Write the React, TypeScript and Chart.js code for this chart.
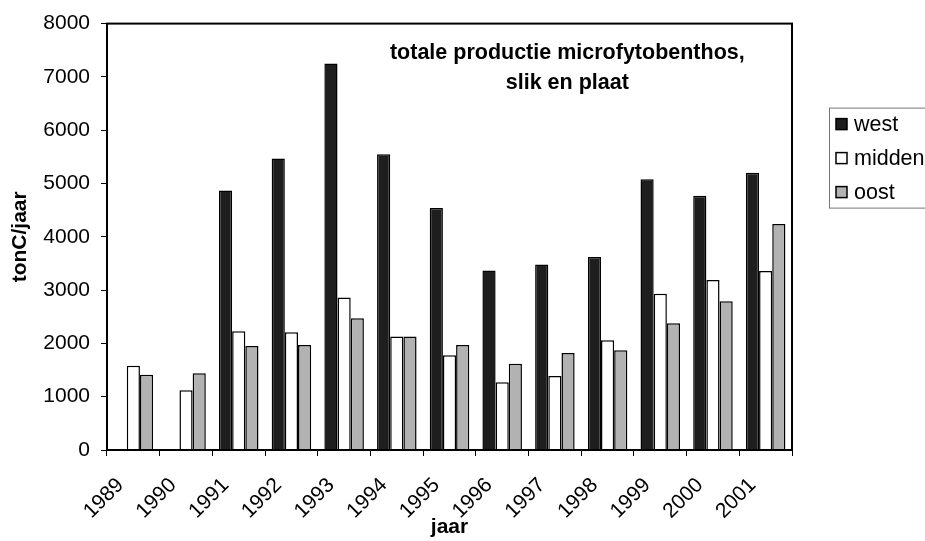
import React, { useEffect, useRef } from "react";
import { Chart, registerables } from "chart.js";

Chart.register(...registerables);

const years = ["1989", "1990", "1991", "1992", "1993", "1994", "1995", "1996", "1997", "1998", "1999", "2000", "2001"];
const west = [null, null, 4870, 5470, 7250, 5550, 4540, 3370, 3480, 3620, 5080, 4770, 5200];
const midden = [1580, 1120, 2230, 2210, 2860, 2130, 1780, 1270, 1390, 2060, 2930, 3190, 3360];
const oost = [1410, 1440, 1950, 1970, 2470, 2130, 1970, 1620, 1820, 1870, 2380, 2790, 4240];
const seriesNames = ["west", "midden", "oost"];
const seriesColors = ["#1e1e1e", "#ffffff", "#b2b2b2"];
const chartTitle = ["totale productie microfytobenthos,", "slik en plaat"];
const yAxisTitle = "tonC/jaar";
const xAxisTitle = "jaar";
const yMin = 0;
const yMax = 8000;
const yStep = 1000;

const FONT = "'Liberation Sans', Arial, sans-serif";

const framePlugin = {
  id: "frameAndText",
  afterDraw(chart: any) {
    const { ctx, chartArea } = chart;
    const { left, top, right, bottom } = chartArea;
    ctx.save();
    // plot frame
    ctx.strokeStyle = "#000";
    ctx.lineWidth = 2;
    ctx.strokeRect(left, top, right - left, bottom - top);
    // title inside plot
    ctx.fillStyle = "#000";
    ctx.font = `bold 21.5px ${FONT}`;
    ctx.textAlign = "center";
    ctx.textBaseline = "middle";
    const cx = left + (right - left) * 0.672;
    ctx.fillText(chartTitle[0], cx, top + 29);
    ctx.fillText(chartTitle[1], cx, top + 59);
    // legend
    const lx = right + 37;
    const ly = top + 84;
    ctx.strokeStyle = "#777";
    ctx.lineWidth = 1;
    ctx.strokeRect(lx + 0.5, ly + 0.5, 140, 100);
    ctx.font = `21.5px ${FONT}`;
    ctx.textAlign = "left";
    seriesNames.forEach((name, i) => {
      const yy = ly + 17 + i * 34;
      ctx.fillStyle = seriesColors[i];
      ctx.fillRect(lx + 7, yy - 6, 11, 11);
      ctx.strokeStyle = "#000";
      ctx.lineWidth = 1.5;
      ctx.strokeRect(lx + 7, yy - 6, 11, 11);
      ctx.fillStyle = "#000";
      ctx.fillText(name, lx + 25, yy);
    });
    ctx.restore();
  },
};

export default function App() {
  const canvasRef = useRef<HTMLCanvasElement | null>(null);

  useEffect(() => {
    const canvas = canvasRef.current;
    if (!canvas) return;
    const data = [west, midden, oost];
    const chart = new Chart(canvas, {
      type: "bar",
      data: {
        labels: years,
        datasets: seriesNames.map((name, i) => ({
          label: name,
          data: data[i] as any,
          backgroundColor: seriesColors[i],
          borderColor: "#000",
          borderWidth: 1.5,
          categoryPercentage: 0.75,
          barPercentage: 1.0,
        })),
      },
      options: {
        responsive: false,
        animation: false,
        devicePixelRatio: 1,
        layout: { padding: { left: 0, top: 21, right: 133, bottom: 0 } },
        plugins: {
          legend: { display: false },
          tooltip: { enabled: false },
          title: { display: false },
        },
        scales: {
          x: {
            grid: {
              offset: true,
              drawOnChartArea: false,
              drawTicks: true,
              tickLength: 6,
              color: "#000",
              lineWidth: 1,
            },
            border: { display: true, color: "#000", width: 2 },
            ticks: {
              color: "#000",
              font: { family: FONT, size: 21 },
              minRotation: 45,
              maxRotation: 45,
              labelOffset: -13,
              padding: 17,
              autoSkip: false,
            },
            title: {
              display: true,
              text: xAxisTitle,
              color: "#000",
              font: { family: FONT, size: 21, weight: "bold" },
              padding: { top: 0, bottom: 1 },
            },
            afterFit(scale: any) {
              scale.height = 91;
            },
          },
          y: {
            min: yMin,
            max: yMax,
            grid: {
              drawOnChartArea: false,
              drawTicks: true,
              tickLength: 6,
              color: "#000",
              lineWidth: 1,
            },
            border: { display: true, color: "#000", width: 2 },
            ticks: {
              stepSize: yStep,
              color: "#000",
              font: { family: FONT, size: 21 },
              padding: 11,
              callback: (v: any) => String(v),
            },
            title: {
              display: true,
              text: yAxisTitle,
              color: "#000",
              font: { family: FONT, size: 21, weight: "bold" },
              padding: { top: 8, bottom: 0 },
            },
            afterFit(scale: any) {
              scale.width = 107;
            },
          },
        },
      },
      plugins: [framePlugin],
    });
    return () => chart.destroy();
  }, []);

  return (
    <div style={{ position: "fixed", left: 0, top: 0, width: 925, height: 541, background: "#fff" }}>
      <canvas ref={canvasRef} width={925} height={541} />
    </div>
  );
}
